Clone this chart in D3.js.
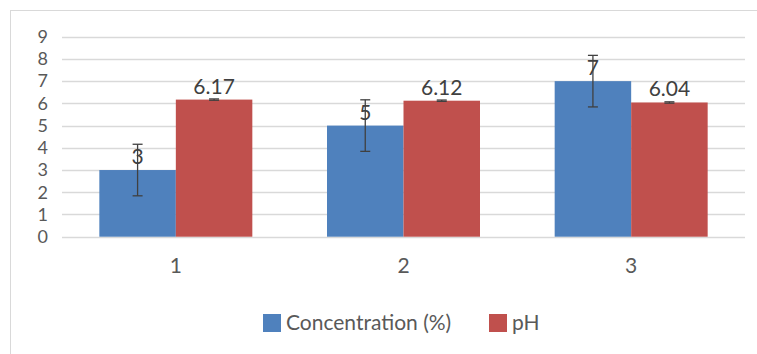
<!DOCTYPE html>
<html><head><meta charset="utf-8">
<script src="https://cdn.jsdelivr.net/npm/d3@7"></script>
<style>
body{margin:0;background:#fff;}
svg{display:block;font-family:Lato,sans-serif;}
</style></head>
<body><svg id="c" width="757" height="354"></svg>
<script>
const categories = ["1","2","3"];
const seriesNames = ["Concentration (%)","pH"];
const concentration = [3,5,7];
const concentrationErr = [1.16,1.16,1.16];
const ph = [6.17,6.12,6.04];
const phErr = [0.03,0.03,0.03];
const phLabels = ["6.17","6.12","6.04"];
const concLabels = ["3","5","7"];
const yTicks = [0,1,2,3,4,5,6,7,8,9];
const colors = ["#4f81bd","#c0504d"];

const svg = d3.select("#c");
const W = 757, H = 354;
const m = {left:62, right:12, top:36.7, bottom:117.3};
const FS = 21, FSY = 18;

svg.append("rect").attr("x",10.5).attr("y",10.5).attr("width",W+5).attr("height",H+5)
  .attr("fill","#fff").attr("stroke","#d9d9d9").attr("stroke-width",1);

const x0 = d3.scaleBand().domain(categories).range([m.left, W-m.right]).paddingInner(0.328).paddingOuter(0.164);
const x1 = d3.scaleBand().domain(seriesNames).range([0, x0.bandwidth()]);
const y = d3.scaleLinear().domain([0,9]).range([H-m.bottom, m.top]);

// gridlines
svg.append("g").selectAll("line").data(yTicks).join("line")
  .attr("x1",m.left).attr("x2",W-m.right)
  .attr("y1",d=>Math.round(y(d))+0.5).attr("y2",d=>Math.round(y(d))+0.5)
  .attr("stroke","#d9d9d9").attr("stroke-width",1.3);

// y axis labels
const yAxis = d3.axisLeft(y).tickValues(yTicks).tickSize(0).tickPadding(0).tickFormat(d3.format("d"));
const ya = svg.append("g").attr("transform",`translate(${m.left-14},0)`).call(yAxis);
ya.select(".domain").remove();
ya.selectAll("text").attr("font-size",FSY).attr("fill","#595959").attr("font-family","Lato");

// x axis labels
const xAxis = d3.axisBottom(x0).tickSize(0).tickPadding(0);
const xa = svg.append("g").attr("transform",`translate(0,${H-m.bottom+21})`).call(xAxis);
xa.select(".domain").remove();
xa.selectAll("text").attr("font-size",FS).attr("fill","#595959").attr("font-family","Lato");

const rows = categories.map((c,i)=>({c, vals:[
  {s:seriesNames[0], v:concentration[i], e:concentrationErr[i], lab:concLabels[i]},
  {s:seriesNames[1], v:ph[i], e:phErr[i], lab:phLabels[i]}]}));

const g = svg.append("g").selectAll("g").data(rows).join("g")
  .attr("transform",d=>`translate(${x0(d.c)},0)`);

g.selectAll("rect").data(d=>d.vals).join("rect")
  .attr("x",d=>x1(d.s)).attr("width",x1.bandwidth())
  .attr("y",d=>y(d.v)).attr("height",d=>y(0)-y(d.v))
  .attr("fill",(d,i)=>colors[i]);

// labels
g.selectAll("text.lab").data(d=>d.vals).join("text").attr("class","lab")
  .attr("x",d=>x1(d.s)+x1.bandwidth()/2).attr("y",d=>y(d.v)-6)
  .attr("text-anchor","middle").attr("font-size",FS).attr("fill","#404040")
  .text(d=>d.lab);

// error bars
const eb = g.selectAll("g.eb").data(d=>d.vals).join("g").attr("class","eb")
  .attr("stroke","#404040").attr("stroke-width",1.3);
eb.append("line").attr("x1",d=>x1(d.s)+x1.bandwidth()/2).attr("x2",d=>x1(d.s)+x1.bandwidth()/2)
  .attr("y1",d=>y(d.v+d.e)).attr("y2",d=>y(d.v-d.e));
[1,-1].forEach(sg=>{
  eb.append("line").attr("x1",d=>x1(d.s)+x1.bandwidth()/2-5).attr("x2",d=>x1(d.s)+x1.bandwidth()/2+5)
    .attr("y1",d=>y(d.v+sg*d.e)).attr("y2",d=>y(d.v+sg*d.e));
});

// legend
const leg = svg.append("g").attr("transform","translate(0,323)");
const legX = [263, 489];
seriesNames.forEach((s,i)=>{
  leg.append("rect").attr("x",legX[i]).attr("y",-9).attr("width",18).attr("height",18).attr("fill",colors[i]);
  leg.append("text").attr("x",legX[i]+23).attr("y",0).attr("dy","0.35em")
    .attr("font-size",FS).attr("fill","#595959").text(s);
});
</script></body></html>
